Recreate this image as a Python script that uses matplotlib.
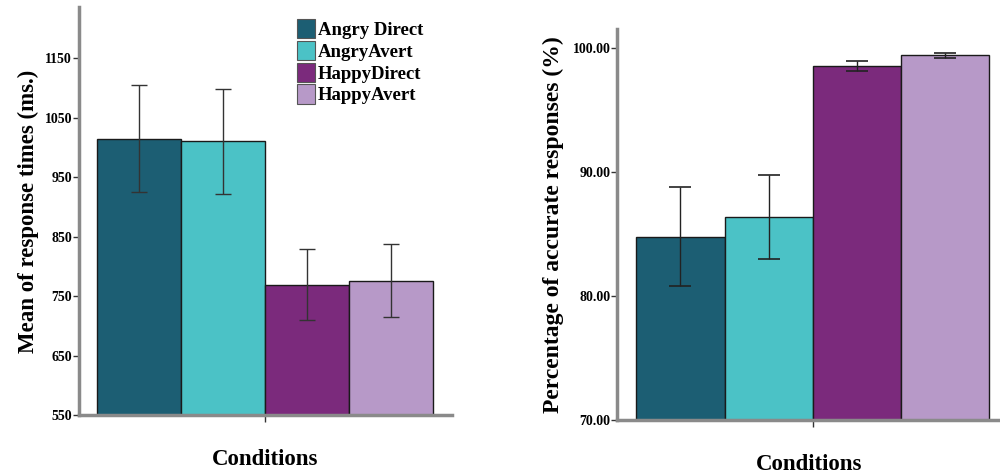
import matplotlib
matplotlib.use("Agg")
import matplotlib.pyplot as plt
import numpy as np

conditions = ["Angry Direct", "AngryAvert", "HappyDirect", "HappyAvert"]
colors = ["#1c5e73", "#4bc2c6", "#7b2a7c", "#b799c8"]

rt_means = [1015, 1010, 769, 776]
rt_err = [90, 89, 60, 61]
rt_ticks = [550, 650, 750, 850, 950, 1050, 1150]

acc_means = [84.8, 86.4, 98.57, 99.46]
acc_err = [4.0, 3.4, 0.4, 0.2]
acc_ticks = [70, 80, 90, 100]

plt.rcParams['font.family'] = ['Liberation Serif', 'DejaVu Serif']

fig = plt.figure(figsize=(10, 4.74), dpi=100)
ax1 = fig.add_axes([0.079, 0.1245, 0.373, 0.8605])
ax2 = fig.add_axes([0.6173, 0.1139, 0.3827, 0.8249])

pos = np.arange(len(conditions)) - 1.5

def style(ax, ticks, fmt, ylabel, ylim, xlim, ysize):
    ax.set_ylim(*ylim)
    ax.set_xlim(*xlim)
    ax.set_yticks(ticks)
    ax.set_yticklabels([fmt.format(t) for t in ticks], fontsize=10, fontweight='bold')
    ax.set_xticks([0])
    ax.set_xticklabels([""])
    for s in ['top', 'right']:
        ax.spines[s].set_visible(False)
    for s in ['left', 'bottom']:
        ax.spines[s].set_color('#8a8a8a')
        ax.spines[s].set_linewidth(2.5)
    ax.tick_params(axis='y', length=4, width=1, color='#333333', pad=1)
    ax.tick_params(axis='x', length=5, width=1, color='#333333')
    ax.set_ylabel(ylabel, fontsize=ysize, fontweight='bold')
    ax.set_xlabel("Conditions", fontsize=16.5, fontweight='bold')

ax1.bar(pos, rt_means, width=1.0, color=colors,
        edgecolor='#1a1a1a', linewidth=1.0, zorder=2)
ax1.errorbar(pos, rt_means, yerr=rt_err, fmt='none', ecolor='#333333',
             elinewidth=1.0, capsize=6, capthick=1.0, zorder=3)
style(ax1, rt_ticks, "{:d}", "Mean of response times (ms.)", (550, 1236), (-2.21, 2.23), 16.5)
ax1.yaxis.labelpad = 4
ax1.xaxis.labelpad = 16

ax2.bar(pos, acc_means, width=1.0, color=colors,
        edgecolor='#1a1a1a', linewidth=1.0, zorder=2)
ax2.errorbar(pos, acc_means, yerr=acc_err, fmt='none', ecolor='#222222',
             elinewidth=1.0, capsize=8, capthick=1.2, zorder=3)
style(ax2, acc_ticks, "{:.2f}", "Percentage of accurate responses (%)", (70, 101.56), (-2.215, 2.12), 17)
ax2.yaxis.labelpad = 6
ax2.xaxis.labelpad = 16

handles = [plt.Rectangle((0, 0), 1, 1, facecolor=c, edgecolor='#555555', linewidth=0.8) for c in colors]
leg = ax1.legend(handles, conditions, loc='upper left', bbox_to_anchor=(0.297, 0.96),
                 bbox_transform=fig.transFigure, frameon=False,
                 prop={'family': 'Liberation Serif', 'weight': 'bold', 'size': 13.5},
                 handlelength=0.95, handleheight=1.2, handletextpad=0.15, labelspacing=0.1,
                 borderaxespad=0, borderpad=0)

fig.savefig("out.png", dpi=100, facecolor='white')
